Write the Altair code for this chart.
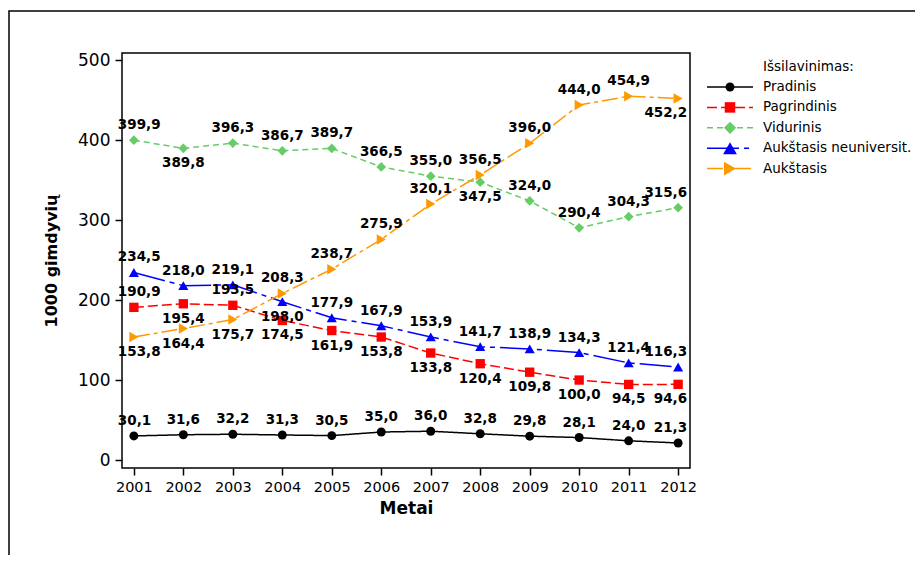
import altair as alt
import pandas as pd

# ---- data ----
years = list(range(2001, 2013))
series = ["Pradinis", "Pagrindinis", "Vidurinis", "Aukštasis neuniversit.", "Aukštasis"]
pradinis = [30.1, 31.6, 32.2, 31.3, 30.5, 35.0, 36.0, 32.8, 29.8, 28.1, 24.0, 21.3]
pagrindinis = [190.9, 195.4, 193.5, 174.5, 161.9, 153.8, 133.8, 120.4, 109.8, 100.0, 94.5, 94.6]
vidurinis = [399.9, 389.8, 396.3, 386.7, 389.7, 366.5, 355.0, 347.5, 324.0, 290.4, 304.3, 315.6]
neuniversit = [234.5, 218.0, 219.1, 198.0, 177.9, 167.9, 153.9, 141.7, 138.9, 134.3, 121.4, 116.3]
aukstasis = [153.8, 164.4, 175.7, 208.3, 238.7, 275.9, 320.1, 356.5, 396.0, 444.0, 454.9, 452.2]
values = [pradinis, pagrindinis, vidurinis, neuniversit, aukstasis]

# which value labels sit below their point (all others sit above)
labels_below = {
    "Pagrindinis": [2002, 2004, 2005, 2006, 2007, 2008, 2009, 2010, 2011, 2012],
    "Aukštasis": [2001, 2002, 2003, 2012],
    "Vidurinis": [2002, 2008],
    "Aukštasis neuniversit.": [2004],
}

colors = ["#000000", "#ff0000", "#66cc66", "#0000ff", "#ff9900"]
shapes = ["circle", "square", "diamond", "triangle-up", "triangle-right"]
sizes = [80, 110, 150, 190, 190]
dashes = [[1, 0], [10, 4], [6, 4], [32, 5, 5, 5], [16, 4, 4, 4]]

legend_title = "Išsilavinimas:"
x_title = "Metai"
y_title = "1000 gimdyvių"
y_ticks = [0, 100, 200, 300, 400, 500]

rows = []
for s, vals in zip(series, values):
    for y, v in zip(years, vals):
        rows.append({
            "year": y,
            "series": s,
            "value": v,
            "label": f"{v:.1f}".replace(".", ","),
            "pos": "below" if y in labels_below.get(s, []) else "above",
            "anchor": "left" if y == years[0] else ("right" if y == years[-1] else "center"),
        })
df = pd.DataFrame(rows)

W, H = 568, 415
FONT = "DejaVu Sans"

xenc = alt.X("year:Q",
             scale=alt.Scale(domain=[2000.76, 2012.24], nice=False, zero=False),
             axis=alt.Axis(values=years, format="d", title=x_title, tickSize=7,
                           labelFontSize=14.5, labelPadding=5, titleFontSize=17,
                           titlePadding=7))
yenc = alt.Y("value:Q",
             scale=alt.Scale(domain=[-10, 509], nice=False, zero=False),
             axis=alt.Axis(values=y_ticks, title=y_title, tickSize=7,
                           labelFontSize=17, labelPadding=5, titleFontSize=16,
                           titlePadding=18))

base = alt.Chart(df).encode(x=xenc, y=yenc)
cscale = alt.Scale(domain=series, range=colors)

lines = base.mark_line(strokeWidth=1.5).encode(
    color=alt.Color("series:N", scale=cscale, legend=None),
    strokeDash=alt.StrokeDash("series:N", scale=alt.Scale(domain=series, range=dashes), legend=None),
    detail="series:N",
)
points = base.mark_point(filled=True, opacity=1).encode(
    color=alt.Color("series:N", scale=cscale, legend=None),
    shape=alt.Shape("series:N", scale=alt.Scale(domain=series, range=shapes), legend=None),
    size=alt.Size("series:N", scale=alt.Scale(domain=series, range=sizes), legend=None),
)

layers = [lines, points]
for pos, dy in [("above", -15), ("below", 15)]:
    for anchor, dx in [("left", -16), ("center", 0), ("right", 9)]:
        layers.append(
            base.transform_filter(
                (alt.datum.pos == pos) & (alt.datum.anchor == anchor)
            ).mark_text(font=FONT, fontSize=13.5, fontWeight="bold", color="black",
                        align=anchor, baseline="middle", dx=dx, dy=dy)
            .encode(text="label:N")
        )

dummy = pd.DataFrame({"a": [0]})
# outer frame of the figure
frame = alt.Chart(dummy).mark_rect(fillOpacity=0, stroke="black", strokeWidth=1.5).encode(
    x=alt.value(-113), x2=alt.value(1000), y=alt.value(-42), y2=alt.value(700))
layers.append(frame)

# legend
leg_x0, leg_x1, leg_mx, leg_tx = 585, 631, 608, 641
leg_y0, leg_dy = 34, 20.4
layers.append(alt.Chart(dummy).mark_text(font=FONT, fontSize=13.5, align="left", baseline="middle",
                                         color="black").encode(
    x=alt.value(leg_tx), y=alt.value(leg_y0 - leg_dy), text=alt.value(legend_title)))
for i, s in enumerate(series):
    yy = leg_y0 + i * leg_dy
    layers.append(alt.Chart(dummy).mark_rule(color=colors[i], strokeWidth=1.5, strokeDash=dashes[i]).encode(
        x=alt.value(leg_x0), x2=alt.value(leg_x1), y=alt.value(yy)))
    layers.append(alt.Chart(dummy).mark_point(shape=shapes[i], filled=True, opacity=1, size=sizes[i],
                                              color=colors[i]).encode(
        x=alt.value(leg_mx), y=alt.value(yy)))
    layers.append(alt.Chart(dummy).mark_text(font=FONT, fontSize=13.5, align="left", baseline="middle",
                                             color="black").encode(
        x=alt.value(leg_tx), y=alt.value(yy), text=alt.value(s)))

chart = alt.layer(*layers).properties(
    width=W, height=H,
    autosize=alt.AutoSizeParams(type="none"),
    padding={"left": 114, "top": 45, "right": 225, "bottom": 87},
    background="white",
).configure_view(stroke="black", strokeWidth=1.5).configure_axis(
    labelFont=FONT, titleFont=FONT, labelColor="black", titleColor="black",
    titleFontWeight="bold", tickColor="black", tickWidth=1.5, domain=False, grid=False,
)

chart.save("out.html", embed_options={"renderer": "svg", "actions": False})
